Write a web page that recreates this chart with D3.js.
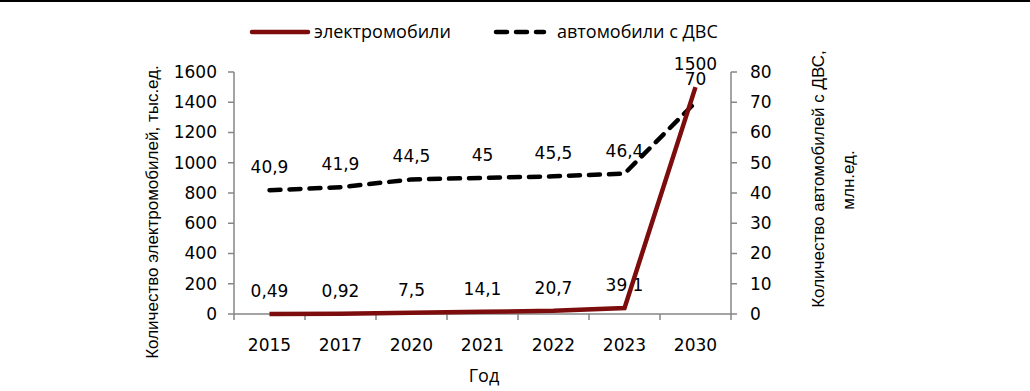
<!DOCTYPE html>
<html lang="ru">
<head>
    <meta charset="UTF-8">
    <title>Электромобили и автомобили с ДВС</title>
    <script src="https://d3js.org/d3.v7.min.js"></script>
    <style>
        body { margin: 0; background: #fff; }
        .tick-label { font-family: "DejaVu Sans", Verdana, sans-serif; font-size: 17px; fill: #000; }
        .data-label { font-family: "DejaVu Sans", Verdana, sans-serif; font-size: 17px; fill: #000; }
        .axis-title { font-family: "Liberation Sans", Arial, sans-serif; font-size: 17px; fill: #000; }
        .legend-text { font-family: "Open Sans", sans-serif; font-size: 18px; fill: #000; }
    </style>
</head>
<body>
<svg id="chart" width="1030" height="391"></svg>
<script>
    var years = ["2015", "2017", "2020", "2021", "2022", "2023", "2030"];
    var evValues = [0.49, 0.92, 7.5, 14.1, 20.7, 39.1, 1500];
    var iceValues = [40.9, 41.9, 44.5, 45, 45.5, 46.4, 70];
    var leftTicks = [0, 200, 400, 600, 800, 1000, 1200, 1400, 1600];
    var rightTicks = [0, 10, 20, 30, 40, 50, 60, 70, 80];

    var config = {
        left: 234,
        right: 731,
        top: 72,
        bottom: 314,
        axis_color: "#868686",
        ev_color: "#7d0d0d",
        label_offset: 23
    };

    var svg = d3.select("#chart");

    // top border
    svg.append("rect").attr("x", 0).attr("y", 0).attr("width", 1030).attr("height", 2).attr("fill", "#000");

    var xScale = d3.scaleBand().domain(years).range([config.left, config.right]).padding(0);
    var yLeft = d3.scaleLinear().domain([0, 1600]).range([config.bottom, config.top]);
    var yRight = d3.scaleLinear().domain([0, 80]).range([config.bottom, config.top]);
    var cx = function (i) { return xScale(years[i]) + xScale.bandwidth() / 2; };

    // axes
    var axes = svg.append("g").attr("stroke", config.axis_color).attr("stroke-width", 1.5);
    axes.append("line").attr("x1", config.left).attr("x2", config.right)
        .attr("y1", config.bottom).attr("y2", config.bottom);
    axes.append("line").attr("x1", config.left).attr("x2", config.left)
        .attr("y1", config.top).attr("y2", config.bottom);
    axes.append("line").attr("x1", config.right).attr("x2", config.right)
        .attr("y1", config.top).attr("y2", config.bottom);

    // x ticks at category boundaries
    var bounds = years.map(function (y) { return xScale(y); }).concat([config.right]);
    axes.selectAll("line.xt").data(bounds).enter().append("line")
        .attr("x1", function (d) { return d; }).attr("x2", function (d) { return d; })
        .attr("y1", config.bottom).attr("y2", config.bottom + 6);

    axes.selectAll("line.yl").data(leftTicks).enter().append("line")
        .attr("x1", config.left - 6).attr("x2", config.left)
        .attr("y1", function (d) { return yLeft(d); }).attr("y2", function (d) { return yLeft(d); });

    axes.selectAll("line.yr").data(rightTicks).enter().append("line")
        .attr("x1", config.right).attr("x2", config.right + 6)
        .attr("y1", function (d) { return yRight(d); }).attr("y2", function (d) { return yRight(d); });

    svg.selectAll("text.xl").data(years).enter().append("text")
        .attr("class", "tick-label")
        .attr("x", function (d) { return xScale(d) + xScale.bandwidth() / 2; })
        .attr("y", 345).attr("dy", "0.35em").attr("text-anchor", "middle")
        .text(function (d) { return d; });

    svg.selectAll("text.yl").data(leftTicks).enter().append("text")
        .attr("class", "tick-label")
        .attr("x", config.left - 17).attr("y", function (d) { return yLeft(d); })
        .attr("dy", "0.35em").attr("text-anchor", "end")
        .text(function (d) { return d; });

    svg.selectAll("text.yr").data(rightTicks).enter().append("text")
        .attr("class", "tick-label")
        .attr("x", config.right + 19).attr("y", function (d) { return yRight(d); })
        .attr("dy", "0.35em").attr("text-anchor", "start")
        .text(function (d) { return d; });

    // axis titles
    svg.append("text").attr("class", "axis-title")
        .attr("transform", "translate(152,212) rotate(-90)")
        .attr("text-anchor", "middle").attr("dy", "0.35em")
        .text("Количество электромобилей, тыс.ед.");
    svg.append("text").attr("class", "axis-title")
        .attr("transform", "translate(818,179) rotate(-90)")
        .attr("text-anchor", "middle").attr("dy", "0.35em")
        .text("Количество автомобилей с ДВС,");
    svg.append("text").attr("class", "axis-title")
        .attr("transform", "translate(848,180) rotate(-90)")
        .attr("text-anchor", "middle").attr("dy", "0.35em")
        .text("млн.ед.");
    svg.append("text").attr("class", "legend-text")
        .attr("x", 484).attr("y", 376).attr("dy", "0.35em").attr("text-anchor", "middle")
        .text("Год");

    var fmt = function (v) { return String(v).replace(".", ","); };

    // data labels (under the lines)
    svg.selectAll("text.ice").data(iceValues).enter().append("text")
        .attr("class", "data-label")
        .attr("x", function (d, i) { return cx(i); })
        .attr("y", function (d) { return yRight(d) - config.label_offset; })
        .attr("dy", "0.35em").attr("text-anchor", "middle")
        .text(fmt);
    svg.selectAll("text.ev").data(evValues).enter().append("text")
        .attr("class", "data-label")
        .attr("x", function (d, i) { return cx(i); })
        .attr("y", function (d) { return yLeft(d) - config.label_offset; })
        .attr("dy", "0.35em").attr("text-anchor", "middle")
        .text(fmt);

    // lines
    var iceLine = d3.line().x(function (d, i) { return cx(i); }).y(function (d) { return yRight(d); });
    var evLine = d3.line().x(function (d, i) { return cx(i); }).y(function (d) { return yLeft(d); });

    svg.append("path").datum(iceValues).attr("d", iceLine)
        .attr("fill", "none").attr("stroke", "#000").attr("stroke-width", 4.5)
        .attr("stroke-dasharray", "11,9").attr("stroke-linecap", "round");
    svg.append("path").datum(evValues).attr("d", evLine)
        .attr("fill", "none").attr("stroke", config.ev_color).attr("stroke-width", 4.5);

    // legend
    var legend = svg.append("g");
    legend.append("line").attr("x1", 252).attr("x2", 308).attr("y1", 32).attr("y2", 32)
        .attr("stroke", config.ev_color).attr("stroke-width", 4.5).attr("stroke-linecap", "round");
    legend.append("text").attr("class", "legend-text").attr("x", 314).attr("y", 32).attr("dy", "0.35em")
        .text("электромобили");
    legend.append("line").attr("x1", 496).attr("x2", 544).attr("y1", 32).attr("y2", 32)
        .attr("stroke", "#000").attr("stroke-width", 4.5)
        .attr("stroke-dasharray", "11,9").attr("stroke-linecap", "round");
    legend.append("text").attr("class", "legend-text").attr("x", 557).attr("y", 32).attr("dy", "0.35em")
        .text("автомобили с ДВС");
</script>
</body>
</html>
